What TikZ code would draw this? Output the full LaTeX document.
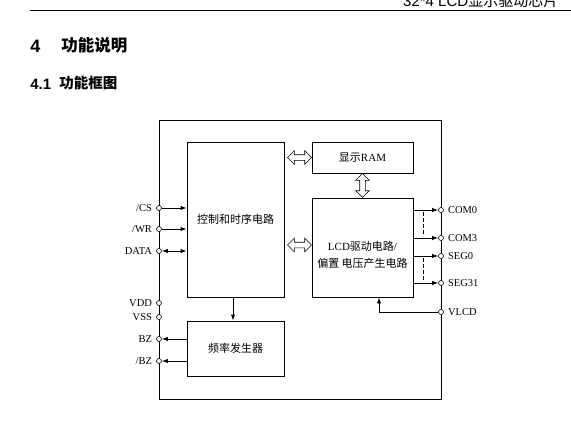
\documentclass[tikz,border=0pt]{standalone}
\usepackage{fontspec}
\setmainfont{Liberation Serif}
\setsansfont{Liberation Sans}
\newfontfamily\cjk{Noto Sans CJK SC}
\newcommand\zh[1]{{\cjk #1}}
\usetikzlibrary{positioning, arrows.meta, calc, shapes.arrows}

\begin{document}
\begin{tikzpicture}[
  x=1pt, y=-1pt,
  line width=0.8pt,
  font=\fontsize{10.5}{12}\selectfont,
  >={Latex[length=6pt,width=4.2pt]},
  block/.style={draw, inner sep=0pt, font=\fontsize{11}{15}\selectfont},
  pin/.style={circle, draw, fill=white, line width=0.6pt, inner sep=0pt, minimum size=5pt},
  pinl/.style={pin, label={[label distance=0.5pt]left:#1}},
  pinr/.style={pin, label={[label distance=0.5pt]right:#1}},
  hollow/.style={double arrow, draw, fill=white, line width=0.6pt, inner sep=0pt,
    minimum width=13pt, double arrow head extend=4pt, text height=5pt, text depth=0pt}
]
\useasboundingbox (0,0) rectangle (571,421);

% page header and headings
\node[anchor=base east, font=\sffamily\fontsize{15}{15}\selectfont] (hdr) at (562,6) {32*4 LCD\zh{显示驱动芯片}};
\draw (30,10.5) -- (571,10.5);
\node[anchor=base west, font=\sffamily\bfseries\fontsize{18}{18}\selectfont, inner sep=0pt] (h4) at (30,52) {4};
\node[anchor=base west, font=\cjk\bfseries\fontsize{16.5}{18}\selectfont, inner sep=0pt] (h4t) at (61,51) {功能说明};
\node[anchor=base west, font=\sffamily\bfseries\fontsize{15}{15}\selectfont, inner sep=0pt] (h41) at (30,89) {4.1};
\node[anchor=base west, font=\cjk\bfseries\fontsize{14.5}{15}\selectfont, inner sep=0pt] (h41t) at (59,88) {功能框图};

% blocks
\node[draw, minimum width=282pt, minimum height=279pt] (chip) at (300,259.5) {};
\node[block, minimum width=97pt, minimum height=155pt] (ctrl) at (235.5,219.5) {\zh{控制和时序电路}};
\node[block, minimum width=101pt, minimum height=31pt] (ram) at (362.5,157.5) {\zh{显示}RAM};
\node[block, minimum width=101pt, minimum height=99pt] (lcd) at (362.5,247.5) {};
\node[align=center, font=\fontsize{11}{17}\selectfont] (lcdtxt) at (362.5,254.5) {LCD\zh{驱动电路}/\\\zh{偏置 电压产生电路}};
\node[block, minimum width=97pt, minimum height=55pt] (freq) at (235.5,348.5) {\raisebox{-3pt}{\zh{频率发生器}}};

% hollow bus arrows
\node[hollow, minimum height=24pt] (busram) at ($(ctrl.east |- ram.west)!0.5!(ram.west)+(1.5,0)$) {};
\node[hollow, minimum height=24pt] (buslcd) at ($(ctrl.east |- 0,245)!0.5!(lcd.west |- 0,245)+(1.5,0)$) {};
\node[hollow, minimum height=24pt, rotate=90] (busv) at ($(ram.south)!0.5!(lcd.north)$) {};

% pins, left side
\node[pinl={/CS}] (pcs) at (159,208) {};
\node[pinl={/WR}] (pwr) at (159,229) {};
\node[pinl={DATA}] (pdata) at (159,251) {};
\node[pinl={VDD}] (pvdd) at (159,303) {};
\node[pinl={VSS}] (pvss) at (159,317) {};
\node[pinl={BZ}] (pbz) at (159,339) {};
\node[pinl={/BZ}] (pnbz) at (159,361) {};

% pins, right side
\node[pinr={COM0}] (pcom0) at (441,210) {};
\node[pinr={COM3}] (pcom3) at (441,238) {};
\node[pinr={SEG0}] (pseg0) at (441,256) {};
\node[pinr={SEG31}] (pseg31) at (441,283) {};
\node[pinr={VLCD}] (pvlcd) at (441,312) {};

% signals
\draw[->] (pcs) -- (pcs -| ctrl.west);
\draw[->] (pwr) -- (pwr -| ctrl.west);
\draw[<->] (pdata) -- (pdata -| ctrl.west);
\draw[->] (pbz -| freq.west) -- (pbz);
\draw[->] (pnbz -| freq.west) -- (pnbz);
\draw[->] ($(ctrl.south)+(-2.5,0)$) -- ($(freq.north)+(-2.5,0)$);

\draw[->] (pcom0 -| lcd.east) -- (pcom0);
\draw[->] (pcom3 -| lcd.east) -- (pcom3);
\draw[->] (pseg0 -| lcd.east) -- (pseg0);
\draw[->] (pseg31 -| lcd.east) -- (pseg31);
\draw[dash pattern=on 4pt off 2pt] ($(pcom0 -| lcd.east)+(10,2)$) -- ($(pcom3 -| lcd.east)+(10,-2)$);
\draw[dash pattern=on 4pt off 2pt] ($(pseg0 -| lcd.east)+(10,2)$) -- ($(pseg31 -| lcd.east)+(10,-2)$);
\draw[->] (pvlcd) -| ($(lcd.south)+(16.5,0)$);
\end{tikzpicture}
\end{document}
